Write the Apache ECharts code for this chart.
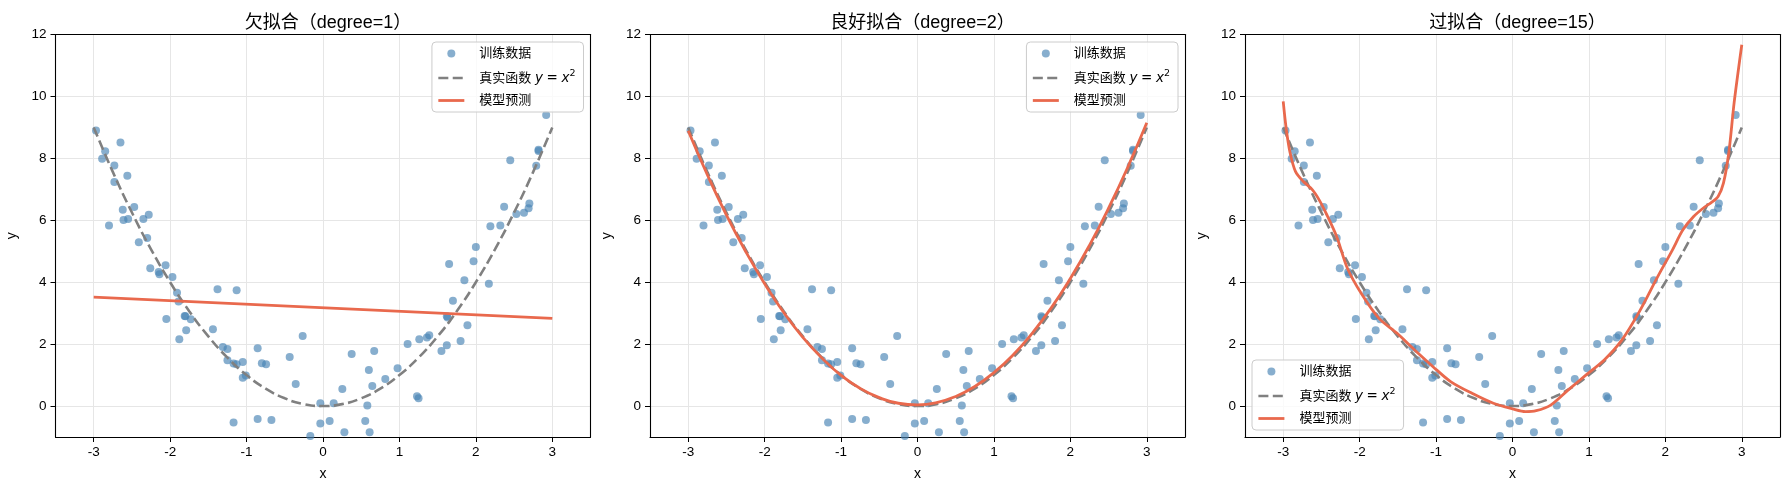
<!DOCTYPE html>
<html lang="zh">
<head>
    <meta charset="UTF-8">
    <title>欠拟合 / 良好拟合 / 过拟合</title>
    <script src="https://cdn.jsdelivr.net/npm/echarts@6/dist/echarts.min.js"></script>
</head>
<body style="margin: 0; background: #fff;">
<div id="container" style="width: 1789px; height: 490px;"></div>
<script type="text/javascript">
    // 训练数据
    const trainX = [-2.97, -2.89, -2.85, -2.80, -2.73, -2.73, -2.65, -2.62, -2.61, -2.56,
        -2.55, -2.47, -2.41, -2.35, -2.30, -2.28, -2.26, -2.15, -2.14, -2.06,
        -2.05, -1.97, -1.91, -1.89, -1.88, -1.81, -1.80, -1.79, -1.73, -1.44,
        -1.38, -1.31, -1.25, -1.25, -1.17, -1.17, -1.13, -1.13, -1.05, -1.05,
        -1.01, -0.855, -0.855, -0.80, -0.745, -0.675, -0.436, -0.357, -0.266, -0.166,
        -0.035, -0.035, 0.087, 0.14, 0.148, 0.253, 0.28, 0.375, 0.553, 0.58,
        0.60, 0.61, 0.645, 0.67, 0.74, 0.815, 0.976, 1.107, 1.23, 1.25,
        1.26, 1.36, 1.39, 1.55, 1.62, 1.62, 1.63, 1.65, 1.70, 1.80,
        1.85, 1.89, 1.97, 2.00, 2.17, 2.19, 2.32, 2.37, 2.45, 2.53,
        2.63, 2.69, 2.70, 2.79, 2.82, 2.82, 2.92];
    const trainY = [8.90, 7.99, 8.23, 5.83, 7.77, 7.24, 8.51, 6.34, 6.01, 7.44,
        6.04, 6.43, 5.29, 6.04, 5.43, 6.18, 4.45, 4.33, 4.26, 4.55,
        2.81, 4.17, 3.66, 3.38, 2.16, 2.91, 2.90, 2.45, 2.80, 2.48,
        3.77, 1.91, 1.84, 1.48, 1.37, -0.53, 3.74, 1.35, 1.42, 0.91,
        0.99, 1.87, -0.42, 1.38, 1.35, -0.45, 1.58, 0.71, 2.26, -0.97,
        0.09, -0.56, -0.48, 0.09, -1.02, 0.55, -0.85, 1.68, -0.48, 0.02,
        1.16, -0.85, 0.65, 1.78, -1.04, 0.87, 1.22, 2.00, 0.32, 0.25,
        2.16, 2.21, 2.29, 1.78, 1.96, 2.90, 2.86, 4.59, 3.40, 2.10,
        4.06, 2.61, 4.68, 5.14, 3.95, 5.81, 5.83, 6.44, 7.94, 6.20,
        6.24, 6.39, 6.54, 7.76, 8.28, 8.24, 9.40];

    // 真实函数 y = x^2
    const curveX = [-3, -2.75, -2.5, -2.25, -2, -1.75, -1.5, -1.25, -1, -0.75, -0.5, -0.25, 0,
        0.25, 0.5, 0.75, 1, 1.25, 1.5, 1.75, 2, 2.25, 2.5, 2.75, 3];
    const trueY = [9, 7.5625, 6.25, 5.0625, 4, 3.0625, 2.25, 1.5625, 1, 0.5625, 0.25, 0.0625, 0,
        0.0625, 0.25, 0.5625, 1, 1.5625, 2.25, 3.0625, 4, 5.0625, 6.25, 7.5625, 9];

    // degree=1 预测
    const underX = [-3, 3];
    const underY = [3.52, 2.83];

    // degree=2 预测
    const goodY = [8.89, 7.47, 6.17, 5.00, 3.95, 3.02, 2.22, 1.55, 0.99, 0.57, 0.27, 0.09, 0.04,
        0.11, 0.31, 0.63, 1.08, 1.65, 2.35, 3.17, 4.12, 5.19, 6.39, 7.71, 9.15];

    // degree=15 预测
    const overX = [-3.0, -2.96, -2.91, -2.84, -2.74, -2.62, -2.53, -2.44, -2.30, -2.16, -1.98,
        -1.75, -1.51, -1.28, -1.04, -0.81, -0.53, -0.25, 0, 0.17, 0.31, 0.50, 0.73, 0.96,
        1.20, 1.43, 1.66, 1.90, 2.09, 2.23, 2.37, 2.51, 2.60, 2.69, 2.76, 2.83, 2.90, 3.0];
    const overY = [9.84, 8.94, 8.18, 7.58, 7.26, 6.99, 6.66, 6.23, 5.47, 4.45, 3.64,
        2.84, 2.35, 1.81, 1.27, 0.79, 0.41, 0.09, -0.09, -0.18, -0.15, 0.03, 0.52, 1.00,
        1.49, 2.13, 3.05, 4.18, 5.03, 5.69, 6.12, 6.42, 6.57, 6.77, 7.20, 8.18, 9.80, 11.67];

    const titles = ['欠拟合（degree=1）', '良好拟合（degree=2）', '过拟合（degree=15）'];
    const xTicks = [-3, -2, -1, 0, 1, 2, 3];
    const yTicks = [0, 2, 4, 6, 8, 10, 12];

    const zip = (xs, ys) => xs.map((x, i) => [x, ys[i]]);
    const preds = [zip(underX, underY), zip(curveX, goodY), zip(overX, overY)];

    const FONT = "'Liberation Sans', 'Noto Sans CJK SC', sans-serif";
    const DASH = [10, 4.4];
    const gridLeft = [55.5, 650, 1245];
    const gridW = 535;

    let chart = echarts.init(document.getElementById('container'), null, {renderer: 'canvas'});

    let option = {
        animation: false,
        backgroundColor: '#fff',
        textStyle: {fontFamily: FONT},
        title: [],
        grid: [],
        xAxis: [],
        yAxis: [],
        legend: [],
        series: []
    };

    // 外框（上/右）用的空轴
    function frameAxis(i, isX) {
        return {
            type: 'value', gridIndex: i,
            position: isX ? 'top' : 'right',
            min: isX ? -3.5 : -1, max: isX ? 3.5 : 12,
            axisLine: {show: true, onZero: false, lineStyle: {color: '#000', width: 1.1}},
            axisTick: {show: false}, axisLabel: {show: false}, splitLine: {show: false}
        };
    }

    for (let i = 0; i < 3; i++) {
        option.title.push({
            text: titles[i],
            left: gridLeft[i] + gridW / 2,
            top: 9,
            textAlign: 'center',
            textStyle: {fontSize: 18, fontWeight: 'normal', color: '#000', fontFamily: FONT}
        });
        option.grid.push({left: gridLeft[i], top: 34.5, width: gridW, height: 402.5});
        option.xAxis.push({
            type: 'value', gridIndex: i, min: -3.5, max: 3.5,
            name: 'x', nameLocation: 'middle', nameGap: 30,
            nameTextStyle: {fontSize: 14, color: '#000', fontFamily: FONT},
            axisLine: {show: true, onZero: false, lineStyle: {color: '#000', width: 1.1}},
            axisTick: {show: true, length: 5, customValues: xTicks, lineStyle: {color: '#000'}},
            axisLabel: {customValues: xTicks, margin: 9, fontSize: 13.5, color: '#000', fontFamily: FONT},
            splitLine: {show: true, lineStyle: {color: '#e6e6e6', width: 1}}
        });
        option.yAxis.push({
            type: 'value', gridIndex: i, min: -1, max: 12,
            name: 'y', nameLocation: 'middle', nameGap: 36,
            nameTextStyle: {fontSize: 14, color: '#000', fontFamily: FONT},
            axisLine: {show: true, onZero: false, lineStyle: {color: '#000', width: 1.1}},
            axisTick: {show: true, length: 5, customValues: yTicks, lineStyle: {color: '#000'}},
            axisLabel: {customValues: yTicks, margin: 9, fontSize: 13.5, color: '#000', fontFamily: FONT},
            splitLine: {show: true, lineStyle: {color: '#e6e6e6', width: 1}}
        });

        let legendPos = i < 2
            ? {right: 1789 - (gridLeft[i] + gridW - 7), top: 42}
            : {left: gridLeft[i] + 7, bottom: 60};
        option.legend.push(Object.assign({
            orient: 'vertical',
            data: [
                {name: '训练数据', icon: 'circle'},
                {name: '真实函数', itemStyle: {opacity: 0}, lineStyle: {type: DASH, width: 2.6, color: '#808080'}},
                {name: '模型预测', itemStyle: {opacity: 0}, lineStyle: {width: 2.8, color: '#e9694d'}}
            ],
            itemWidth: 26, itemHeight: 8, itemGap: 9,
            padding: [5, 8, 5, 5],
            backgroundColor: 'rgba(255,255,255,0.8)',
            borderColor: '#cccccc', borderWidth: 1, borderRadius: 4,
            selectedMode: false,
            formatter: function (name) {
                if (name === '真实函数') {
                    return '真实函数 {m|y} {e|=} {m|x}{s|2}';
                }
                return name;
            },
            textStyle: {
                fontSize: 13, color: '#000', fontFamily: FONT, padding: [0, 0, 0, 10],
                rich: {
                    m: {fontFamily: 'DejaVu Sans', fontStyle: 'italic', fontSize: 13.5, color: '#000'},
                    e: {fontFamily: 'DejaVu Sans', fontSize: 13.5, color: '#000'},
                    s: {fontFamily: 'DejaVu Sans', fontSize: 9.5, color: '#000', padding: [0, 0, 8, 0]}
                }
            }
        }, legendPos));

        option.series.push({
            name: '训练数据', type: 'scatter', xAxisIndex: i, yAxisIndex: i,
            data: zip(trainX, trainY), symbolSize: 8,
            itemStyle: {color: '#4682b4', opacity: 0.65},
            z: 2
        });
        option.series.push({
            name: '真实函数', type: 'line', xAxisIndex: i, yAxisIndex: i,
            data: zip(curveX, trueY), symbol: 'none', smooth: true,
            lineStyle: {color: '#808080', width: 2.6, type: DASH},
            itemStyle: {color: '#808080'},
            z: 3
        });
        option.series.push({
            name: '模型预测', type: 'line', xAxisIndex: i, yAxisIndex: i,
            data: preds[i], symbol: 'none', smooth: i === 2 ? 0.3 : true,
            lineStyle: {color: '#e9694d', width: 2.8},
            itemStyle: {color: '#e9694d'},
            z: 4
        });
    }
    for (let i = 0; i < 3; i++) {
        option.xAxis.push(frameAxis(i, true));
        option.yAxis.push(frameAxis(i, false));
    }

    chart.setOption(option);
</script>
</body>
</html>
